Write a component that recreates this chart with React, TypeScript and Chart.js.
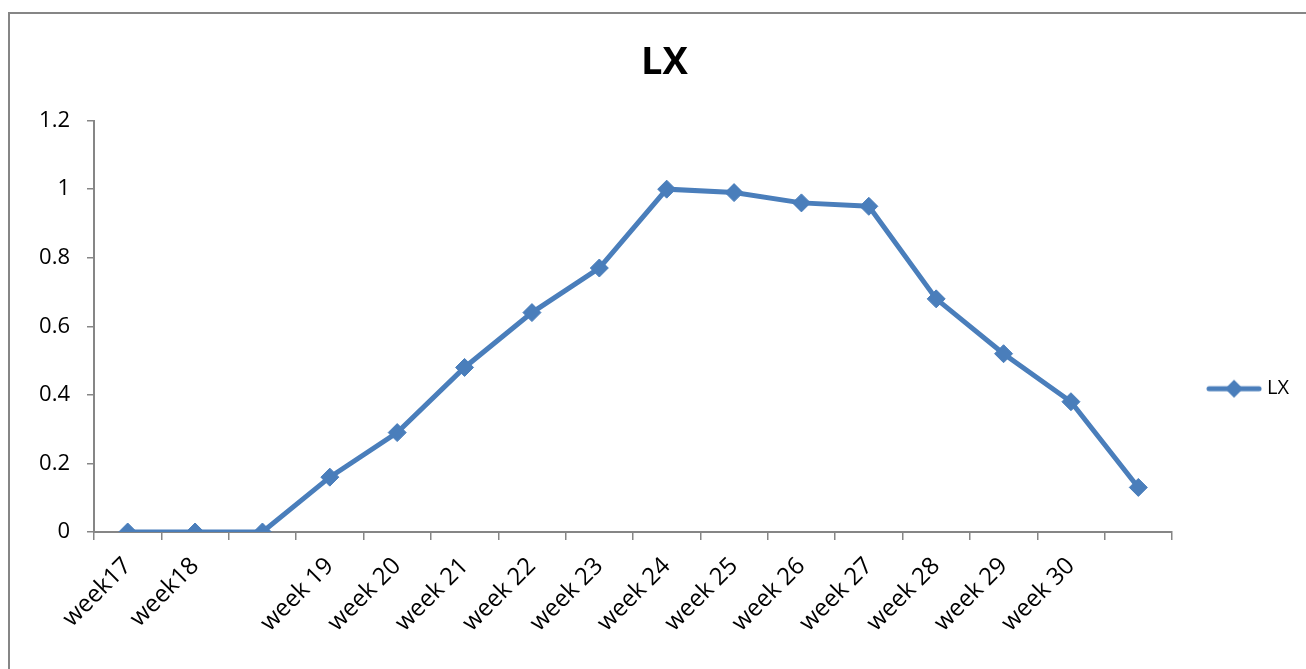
import React, { useEffect, useRef } from 'react';
import { Chart, registerables } from 'chart.js';

Chart.register(...registerables);

const categories = [
  'week17', 'week18', '', 'week 19', 'week 20', 'week 21', 'week 22', 'week 23',
  'week 24', 'week 25', 'week 26', 'week 27', 'week 28', 'week 29', 'week 30', '',
];
const lxValues = [0, 0, 0, 0.16, 0.29, 0.48, 0.64, 0.77, 1.0, 0.99, 0.96, 0.95, 0.68, 0.52, 0.38, 0.13];
const seriesName = 'LX';
const chartTitle = 'LX';
const yMin = 0;
const yMax = 1.2;
const yStep = 0.2;

const BLUE = '#4a7ebb';
const GREY = '#868686';
const FONT = "'Open Sans', sans-serif";

function makeLegendImage(): HTMLCanvasElement {
  const c = document.createElement('canvas');
  c.width = 56;
  c.height = 20;
  const ctx = c.getContext('2d')!;
  ctx.strokeStyle = BLUE;
  ctx.lineWidth = 5;
  ctx.lineCap = 'round';
  ctx.beginPath();
  ctx.moveTo(3, 10);
  ctx.lineTo(53, 10);
  ctx.stroke();
  ctx.fillStyle = BLUE;
  ctx.beginPath();
  ctx.moveTo(28, 1);
  ctx.lineTo(37, 10);
  ctx.lineTo(28, 19);
  ctx.lineTo(19, 10);
  ctx.closePath();
  ctx.fill();
  return c;
}

export default function App() {
  const canvasRef = useRef<HTMLCanvasElement | null>(null);

  useEffect(() => {
    const canvas = canvasRef.current;
    if (!canvas) return;
    const legendImg = makeLegendImage();
    const chart = new Chart(canvas, {
      type: 'line',
      data: {
        labels: categories,
        datasets: [
          {
            label: seriesName,
            data: lxValues,
            borderColor: BLUE,
            backgroundColor: BLUE,
            borderWidth: 5,
            tension: 0,
            pointStyle: 'rectRot',
            pointRadius: 9,
            pointBackgroundColor: BLUE,
            pointBorderColor: BLUE,
            pointBorderWidth: 1,
            fill: false,
          },
        ],
      },
      options: {
        responsive: false,
        animation: false,
        devicePixelRatio: 1,
        layout: { padding: { left: 30, right: 7, top: 0, bottom: 16 } },
        plugins: {
          title: {
            display: true,
            text: chartTitle,
            color: '#000',
            font: { family: FONT, size: 38, weight: 'bold' },
            padding: { top: 40, bottom: 35 },
          },
          legend: {
            display: true,
            position: 'right',
            title: {
              display: true,
              text: ' ',
              font: { family: FONT, size: 12 },
              padding: { top: 55, bottom: 55 },
            },
            labels: {
              color: '#000',
              font: { family: FONT, size: 20 },
              usePointStyle: true,
              pointStyleWidth: 46,
              padding: 39,
              generateLabels: (ch: any) =>
                (Chart.defaults.plugins.legend.labels as any)
                  .generateLabels(ch)
                  .map((l: any) => ({ ...l, pointStyle: legendImg })),
            },
          },
          tooltip: { enabled: false },
        },
        scales: {
          x: {
            type: 'category',
            offset: true,
            grid: {
              offset: true,
              drawOnChartArea: false,
              color: GREY,
              lineWidth: 1.5,
              tickLength: 8,
            },
            border: { color: GREY, width: 2 },
            ticks: {
              color: '#000',
              font: { family: FONT, size: 24 },
              minRotation: 45,
              maxRotation: 45,
              autoSkip: false,
              padding: 12,
            },
            afterFit: (scale: any) => {
              scale.height = 121;
            },
          },
          y: {
            min: yMin,
            max: yMax,
            grid: {
              drawOnChartArea: false,
              color: GREY,
              lineWidth: 1.5,
              tickLength: 7,
            },
            border: { color: GREY, width: 2 },
            ticks: {
              stepSize: yStep,
              color: '#000',
              font: { family: FONT, size: 22 },
              padding: 17,
              callback: (v: any) => String(Math.round(Number(v) * 10) / 10),
            },
            afterFit: (scale: any) => {
              scale.width = 64;
            },
          },
        },
      },
    });
    return () => chart.destroy();
  }, []);

  return (
    <div
      style={{
        position: 'fixed',
        left: 0,
        top: 0,
        width: 1306,
        height: 669,
        overflow: 'hidden',
        background: '#fff',
      }}
    >
      <div
        style={{
          position: 'absolute',
          left: 8,
          top: 12,
          width: 1400,
          height: 800,
          border: `2px solid ${GREY}`,
        }}
      />
      <canvas
        ref={canvasRef}
        width={1306}
        height={669}
        style={{ position: 'absolute', left: 0, top: 0, width: 1306, height: 669 }}
      />
    </div>
  );
}
